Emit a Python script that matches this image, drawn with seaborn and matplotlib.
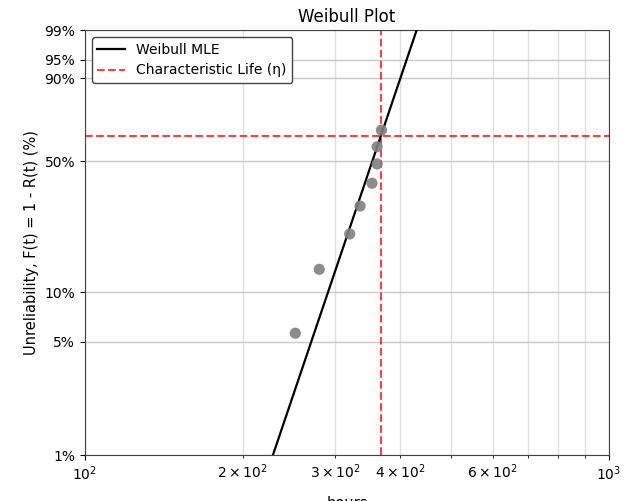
import numpy as np
import matplotlib
matplotlib.use("Agg")
import matplotlib.pyplot as plt
import seaborn as sns
import pandas as pd

# failure times (hours) and plotting positions (unreliability, %)
hours = [252, 280, 320, 335, 353, 361, 361, 368]
unrel_pct = [5.65, 13.6, 21.6, 30.5, 39.7, 48.7, 57.5, 66.3]

# fitted weibull parameters
beta = 9.7
eta = 367.0

ytick_pct = [1, 5, 10, 50, 90, 95, 99]
ytick_labels = ["1%", "5%", "10%", "50%", "90%", "95%", "99%"]


def fwd(f):
    f = np.clip(np.asarray(f, dtype=float), 1e-9, 1 - 1e-9)
    return np.log(-np.log(1 - f))


def inv(y):
    return 1 - np.exp(-np.exp(np.asarray(y, dtype=float)))


def main():
    fig = plt.figure(figsize=(6.41, 5.01), dpi=100)
    ax = fig.add_axes([0.1326, 0.0918, 0.8174, 0.8483])

    ax.set_xscale("log")
    ax.set_yscale("function", functions=(fwd, inv))

    # fitted line
    t = np.geomspace(200, 470, 60)
    df_fit = pd.DataFrame({"t": t, "F": 1 - np.exp(-(t / eta) ** beta)})
    sns.lineplot(data=df_fit, x="t", y="F", ax=ax, color="black", lw=1.6,
                 label="Weibull MLE", sort=False, zorder=3)

    # data points
    df_pts = pd.DataFrame({"t": hours, "F": np.array(unrel_pct) / 100})
    sns.scatterplot(data=df_pts, x="t", y="F", ax=ax, color="grey", s=65,
                    edgecolor="none", alpha=0.9, zorder=4)

    # characteristic life
    ax.axvline(eta, color="red", ls="--", lw=1.5, alpha=0.75,
               label="Characteristic Life (η)", zorder=2)
    ax.axhline(1 - np.exp(-1), color="red", ls="--", lw=1.5, alpha=0.75, zorder=2)

    ax.set_xlim(100, 1000)
    ax.set_ylim(0.01, 0.99)
    ax.set_yticks(np.array(ytick_pct) / 100)
    ax.set_yticklabels(ytick_labels)
    ax.yaxis.set_minor_locator(matplotlib.ticker.NullLocator())

    ax.grid(True, which="major", color="#c8c8c8", lw=1.0)
    ax.grid(True, which="minor", axis="x", color="#e0e0e0", lw=1.0)
    ax.set_axisbelow(True)

    for sp in ax.spines.values():
        sp.set_color("#444444")

    ax.set_title("Weibull Plot", fontsize=12)
    ax.set_xlabel("hours", fontsize=10.5, labelpad=9)
    ax.set_ylabel("Unreliability, F(t) = 1 - R(t) (%)", fontsize=10.5)
    ax.tick_params(labelsize=10)

    ax.legend(loc="upper left", fontsize=10, framealpha=1.0, edgecolor="#444444")

    fig.savefig("out.png", dpi=100)


if __name__ == '__main__':
    main()
